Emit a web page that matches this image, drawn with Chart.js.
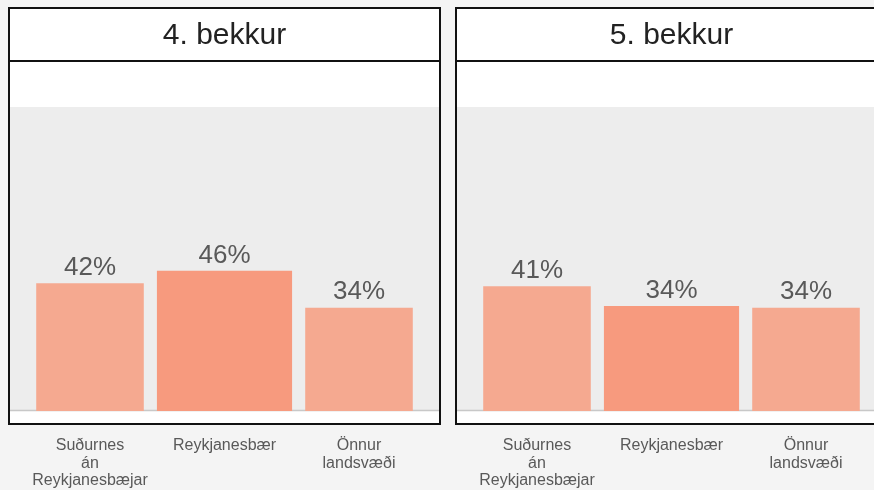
<!DOCTYPE html>
<html>
<head>
<meta charset="utf-8">
<script src="https://cdn.jsdelivr.net/npm/chart.js@4"></script>
<style>
  html, body { margin: 0; padding: 0; background: #f4f4f4; overflow: hidden; width: 874px; height: 490px; }
  canvas { position: absolute; top: 0; }
  #c4 { left: 0; }
  #c5 { left: 447px; }
</style>
</head>
<body>
<canvas id="c4" width="448" height="490"></canvas>
<canvas id="c5" width="448" height="490"></canvas>
<script>
const categories = [['Suðurnes', 'án', 'Reykjanesbæjar'], 'Reykjanesbær', ['Önnur', 'landsvæði']];
const values4 = [42, 46, 34];
const values5 = [41, 34.4, 34];
const titles = ['4. bekkur', '5. bekkur'];
const highlightIndex = 1;

const FONT = "'Liberation Sans', Arial, sans-serif";
const lightColor = '#f5a990';
const darkColor = '#f79a7e';

const panelPlugin = {
  id: 'panel',
  beforeDraw(chart) {
    const { ctx, chartArea, scales } = chart;
    const top100 = scales.y.getPixelForValue(100);
    ctx.save();
    ctx.fillStyle = '#ffffff';
    ctx.fillRect(9, 8, 431, 416);
    ctx.fillStyle = '#ededed';
    ctx.fillRect(10, top100, 429, chartArea.bottom - top100);
    ctx.strokeStyle = '#c8c8c8';
    ctx.lineWidth = 1.5;
    ctx.beginPath();
    ctx.moveTo(10, chartArea.bottom - 0.5);
    ctx.lineTo(439, chartArea.bottom - 0.5);
    ctx.stroke();
    ctx.strokeStyle = '#111';
    ctx.lineWidth = 2;
    ctx.strokeRect(9, 8, 431, 416);
    ctx.beginPath();
    ctx.moveTo(9, 61);
    ctx.lineTo(440, 61);
    ctx.stroke();
    ctx.restore();
  },
  afterDatasetsDraw(chart) {
    const { ctx } = chart;
    ctx.save();
    ctx.font = '26px ' + FONT;
    ctx.fillStyle = '#595959';
    ctx.textAlign = 'center';
    ctx.textBaseline = 'alphabetic';
    chart.data.datasets.forEach((ds, di) => {
      chart.getDatasetMeta(di).data.forEach((bar, i) => {
        const v = ds.data[i];
        if (v == null) return;
        ctx.fillText(Math.round(v) + '%', bar.x, bar.y - 8.5);
      });
    });
    ctx.restore();
  }
};

function makeChart(id, title, values) {
  const light = values.map((v, i) => (i === highlightIndex ? null : v));
  const dark = values.map((v, i) => (i === highlightIndex ? v : null));
  return new Chart(document.getElementById(id), {
    type: 'bar',
    data: {
      labels: categories,
      datasets: [
        { data: light, backgroundColor: lightColor, barPercentage: 0.8, categoryPercentage: 1, grouped: false },
        { data: dark, backgroundColor: darkColor, barPercentage: 1.0, categoryPercentage: 1, grouped: false },
      ],
    },
    options: {
      responsive: false,
      animation: false,
      layout: { padding: { left: 22.75, right: 21.75, top: 0, bottom: -25.8 } },
      plugins: {
        legend: { display: false },
        tooltip: { enabled: false },
        title: {
          display: true, text: title, color: '#222',
          font: { family: FONT, size: 30, weight: 'normal', lineHeight: 1.2 },
          padding: { top: 17.5, bottom: 53.5 },
        },
      },
      scales: {
        x: {
          grid: { display: false, drawTicks: false },
          border: { display: false },
          ticks: { padding: 26, color: '#595959', maxRotation: 0, autoSkip: false, font: { family: FONT, size: 16, lineHeight: 1.1 } },
        },
        y: { display: false, min: 0, max: 100 },
      },
    },
    plugins: [panelPlugin],
  });
}

makeChart('c4', titles[0], values4);
makeChart('c5', titles[1], values5);
</script>
</body>
</html>
